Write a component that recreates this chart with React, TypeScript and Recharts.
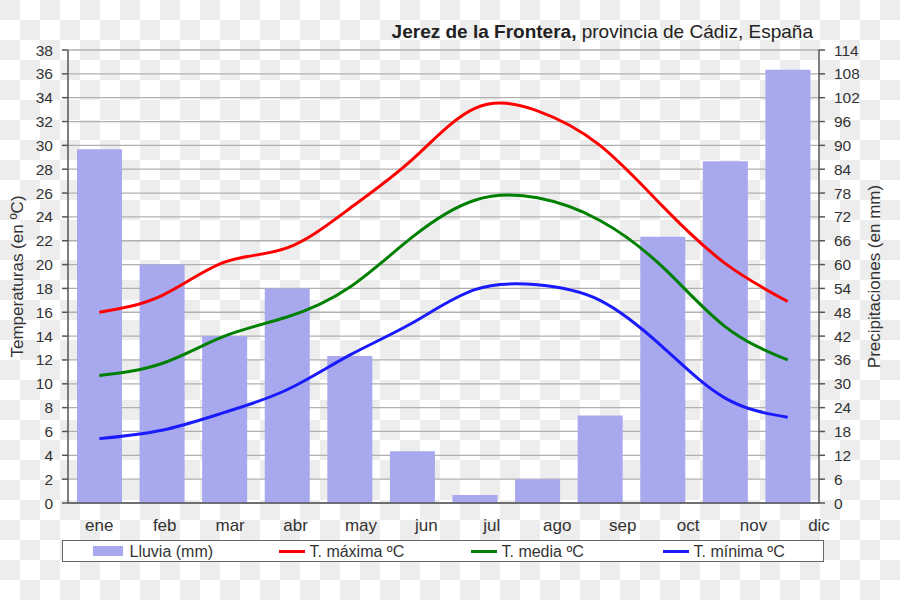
import React from 'react';
import { ComposedChart, Bar, Line, XAxis, YAxis, CartesianGrid } from 'recharts';

const months = ['ene', 'feb', 'mar', 'abr', 'may', 'jun', 'jul', 'ago', 'sep', 'oct', 'nov', 'dic'];
const rain = [89, 60, 42, 54, 37, 13, 2, 6, 22, 67, 86, 109];
const tMax = [16.0, 17.4, 20.2, 21.4, 24.7, 28.8, 33.1, 32.9, 30.0, 24.9, 20.1, 16.9];
const tMed = [10.7, 11.7, 14.0, 15.6, 18.1, 22.3, 25.4, 25.6, 23.7, 19.8, 14.8, 12.0];
const tMin = [5.4, 6.1, 7.6, 9.5, 12.4, 15.1, 17.9, 18.3, 17.0, 13.1, 8.8, 7.2];
const tempTicks = [0, 2, 4, 6, 8, 10, 12, 14, 16, 18, 20, 22, 24, 26, 28, 30, 32, 34, 36, 38];
const rainTicks = [0, 6, 12, 18, 24, 30, 36, 42, 48, 54, 60, 66, 72, 78, 84, 90, 96, 102, 108, 114];

const data = months.map((m, i) => ({ month: m, rain: rain[i], tMax: tMax[i], tMed: tMed[i], tMin: tMin[i] }));

const FONT = '"Liberation Sans", Arial, sans-serif';
const TXT = '#333333';

const CHART_W = 900;
const LEFT_W = 68;
const RIGHT_W = 81;
const HALF_BAND = (CHART_W - LEFT_W - RIGHT_W) / months.length / 2;

const checker: React.CSSProperties = {
  backgroundColor: '#ffffff',
  backgroundImage:
    'linear-gradient(45deg, #ededed 25%, transparent 25%, transparent 75%, #ededed 75%), linear-gradient(45deg, #ededed 25%, transparent 25%, transparent 75%, #ededed 75%)',
  backgroundSize: '40px 40px',
  backgroundPosition: '20px 0, 0 20px',
};

const legendItems = [
  { kind: 'bar', color: '#a8a8ee', label: 'Lluvia (mm)', x: 93 },
  { kind: 'line', color: '#ff0000', label: 'T. máxima ºC', x: 279 },
  { kind: 'line', color: '#008000', label: 'T. media ºC', x: 471 },
  { kind: 'line', color: '#1a1aff', label: 'T. mínima ºC', x: 663 },
];

const MonthTick = (props: any) => {
  const { x, y, payload, index } = props;
  const shift = (index / (months.length - 1)) * HALF_BAND;
  return (
    <text x={x + shift} y={y} dy="0.75em" textAnchor="middle" fill={TXT} fontSize={17} fontFamily={FONT}>
      {payload.value}
    </text>
  );
};

export default function App() {
  return (
    <div style={{ position: 'fixed', left: 0, top: 0, width: 900, height: 600, fontFamily: FONT, ...checker }}>
      <div
        style={{
          position: 'absolute',
          right: 87,
          top: 21,
          fontSize: 19,
          color: '#222',
          whiteSpace: 'nowrap',
          lineHeight: '22px',
        }}
      >
        <b>Jerez de la Frontera,</b> provincia de Cádiz, España
      </div>
      <ComposedChart
        width={CHART_W}
        height={600}
        data={data}
        margin={{ top: 50, right: 0, bottom: 67, left: 0 }}
        style={{ position: 'absolute', left: 0, top: 0 }}
      >
        <CartesianGrid yAxisId="left" vertical={false} stroke="#b0b0b0" strokeWidth={1.3} />
        <XAxis
          dataKey="month"
          xAxisId="cat"
          interval={0}
          height={30}
          tickSize={0}
          tickMargin={15}
          axisLine={{ stroke: '#555', strokeWidth: 1.5 }}
          tick={<MonthTick />}
        />
        <YAxis
          yAxisId="left"
          width={LEFT_W}
          domain={[0, 38]}
          ticks={tempTicks}
          interval={0}
          tickSize={6}
          tickMargin={9}
          axisLine={{ stroke: '#555', strokeWidth: 1.5 }}
          tickLine={{ stroke: '#555', strokeWidth: 1.5 }}
          tick={{ fill: TXT, fontSize: 15.5, fontFamily: FONT }}
          label={(props: any) => {
            const vb = props.viewBox || {};
            const cy = (vb.y ?? 50) + (vb.height ?? 453) / 2;
            return (
              <text
                x={17}
                y={cy}
                transform={`rotate(-90, 17, ${cy})`}
                textAnchor="middle"
                dominantBaseline="central"
                fill={TXT}
                fontSize={17}
                fontFamily={FONT}
              >
                Temperaturas (en ºC)
              </text>
            );
          }}
        />
        <YAxis
          yAxisId="right"
          orientation="right"
          width={RIGHT_W}
          domain={[0, 114]}
          ticks={rainTicks}
          interval={0}
          tickSize={6}
          tickMargin={9}
          axisLine={{ stroke: '#555', strokeWidth: 1.5 }}
          tickLine={{ stroke: '#555', strokeWidth: 1.5 }}
          tick={{ fill: TXT, fontSize: 15.5, fontFamily: FONT }}
          label={(props: any) => {
            const vb = props.viewBox || {};
            const cy = (vb.y ?? 50) + (vb.height ?? 453) / 2;
            return (
              <text
                x={874}
                y={cy}
                transform={`rotate(-90, 874, ${cy})`}
                textAnchor="middle"
                dominantBaseline="central"
                fill={TXT}
                fontSize={17}
                fontFamily={FONT}
              >
                Precipitaciones (en mm)
              </text>
            );
          }}
        />
        <Bar xAxisId="cat" yAxisId="right" dataKey="rain" fill="#a8a8ee" barSize={45} isAnimationActive={false} />
        <Line xAxisId="cat" yAxisId="left" type="natural" dataKey="tMax" stroke="#ff0000" strokeWidth={3} dot={false} isAnimationActive={false} />
        <Line xAxisId="cat" yAxisId="left" type="natural" dataKey="tMed" stroke="#008000" strokeWidth={3} dot={false} isAnimationActive={false} />
        <Line xAxisId="cat" yAxisId="left" type="natural" dataKey="tMin" stroke="#1a1aff" strokeWidth={3} dot={false} isAnimationActive={false} />
      </ComposedChart>
      <div
        style={{
          position: 'absolute',
          left: 62,
          top: 540,
          width: 760,
          height: 20,
          background: '#fff',
          border: '1.5px solid #666',
        }}
      >
        {legendItems.map((it) => (
          <div key={it.label} style={{ position: 'absolute', left: it.x - 63.5, top: 0, height: 20, display: 'flex', alignItems: 'center', whiteSpace: 'nowrap' }}>
            {it.kind === 'bar' ? (
              <div style={{ width: 30, height: 10, background: it.color }} />
            ) : (
              <div style={{ width: 26, height: 3, background: it.color }} />
            )}
            <span style={{ marginLeft: it.kind === 'bar' ? 7 : 5, fontSize: 16, color: TXT, lineHeight: '20px', position: 'relative', top: 1 }}>{it.label}</span>
          </div>
        ))}
      </div>
    </div>
  );
}
